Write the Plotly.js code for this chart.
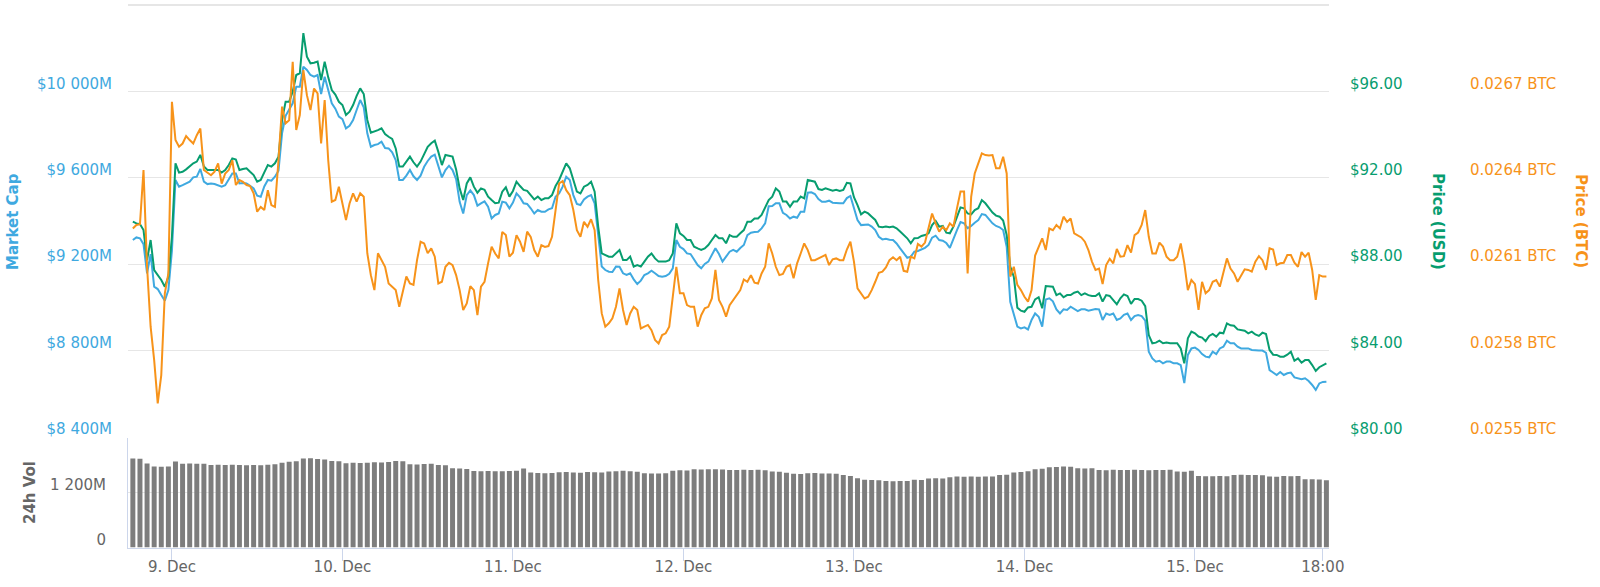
<!DOCTYPE html>
<html>
<head>
<meta charset="utf-8">
<script src="https://cdn.plot.ly/plotly-3.0.1.min.js"></script>
<style>
html,body{margin:0;padding:0;background:#fff;}
#chart{width:1600px;height:587px;}
</style>
</head>
<body>
<div id="chart"></div>
<script>
// Line series: one sample every 30 minutes from 8 Dec 2018 18:30 (UTC)
// Volume bars: one sample every hour from the same start
const startTime = '2018-12-08T18:30:00Z';

// Market cap, millions USD
const marketCap = [
9312,9324,9320,9293,9158,9247,9096,9085,9057,9031,9080,9263,
9590,9559,9566,9574,9582,9602,9605,9641,9582,9571,9574,9571,
9566,9559,9566,9594,9620,9620,9574,9576,9574,9563,9551,9517,
9512,9560,9590,9587,9605,9633,9806,9887,9914,9945,10022,10022,
10114,10099,10076,10068,10076,9988,10068,10000,9945,9920,9883,9872,
9829,9841,9867,9914,9960,9926,9806,9744,9752,9756,9767,9738,
9736,9718,9682,9590,9590,9610,9636,9607,9590,9610,9651,9678,
9698,9707,9659,9602,9636,9656,9636,9594,9489,9435,9520,9542,
9520,9471,9482,9491,9466,9412,9428,9435,9489,9485,9459,9485,
9528,9509,9482,9479,9459,9435,9451,9443,9443,9454,9459,9512,
9528,9559,9605,9590,9520,9479,9474,9500,9513,9520,9482,9327,
9189,9173,9165,9164,9189,9188,9158,9150,9158,9130,9108,9124,
9150,9158,9170,9158,9145,9142,9145,9156,9181,9312,9281,9270,
9250,9247,9220,9196,9181,9201,9212,9242,9274,9247,9212,9235,
9258,9266,9258,9275,9289,9335,9346,9349,9350,9366,9389,9468,
9469,9482,9482,9438,9428,9412,9420,9415,9443,9443,9531,9533,
9525,9502,9489,9489,9494,9485,9482,9482,9482,9506,9516,9460,
9404,9381,9381,9384,9374,9358,9327,9315,9318,9313,9312,9296,
9273,9249,9230,9235,9258,9261,9269,9276,9289,9323,9332,9312,
9309,9298,9276,9320,9358,9395,9389,9367,9377,9392,9404,9432,
9428,9409,9389,9377,9371,9358,9281,9026,8972,8911,8903,8908,
8898,8942,8972,8957,8911,9037,9042,9028,8991,8972,8991,8988,
9003,8991,8983,8991,8991,8985,8988,8993,8991,8942,8972,8965,
8972,8942,8949,8966,8972,8942,8960,8965,8960,8939,8795,8764,
8749,8753,8741,8749,8749,8741,8741,8733,8650,8780,8810,8814,
8803,8784,8772,8769,8795,8784,8810,8818,8846,8834,8834,8818,
8810,8810,8810,8803,8800,8800,8800,8790,8710,8698,8687,8701,
8687,8695,8698,8676,8672,8667,8672,8659,8641,8618,8648,8655,
8656];

// Price, USD
const priceUSD = [
89.97,89.89,89.86,89.58,88.19,89.12,87.73,87.50,87.27,86.96,87.42,89.27,
92.67,92.24,92.28,92.39,92.52,92.67,92.75,93.06,92.52,92.36,92.36,92.36,
92.36,92.24,92.36,92.59,92.90,92.85,92.36,92.41,92.44,92.28,92.13,91.82,
91.90,92.25,92.59,92.52,92.67,92.98,94.68,95.52,95.52,95.99,96.76,96.84,
98.70,97.61,97.30,97.33,97.38,96.53,97.38,96.65,96.06,95.85,95.52,95.37,
94.91,95.06,95.37,95.79,96.14,95.88,94.68,94.09,94.14,94.21,94.29,94.03,
93.90,93.80,93.36,92.52,92.52,92.75,92.98,92.72,92.52,92.75,93.13,93.43,
93.60,93.72,93.20,92.59,93.06,93.01,92.98,92.39,91.51,90.97,91.74,92.02,
91.59,91.31,91.51,91.44,91.13,90.97,90.82,90.85,91.36,91.56,91.13,91.39,
91.82,91.62,91.44,91.40,91.20,91.00,91.13,90.97,91.05,91.05,91.20,91.62,
91.90,92.33,92.67,92.44,91.90,91.36,91.28,91.59,91.67,91.82,91.36,89.74,
88.50,88.43,88.35,88.35,88.50,88.66,88.19,88.19,88.35,87.89,87.96,87.89,
88.12,88.35,88.50,88.27,88.12,88.12,88.12,88.19,88.50,89.89,89.43,89.31,
89.12,89.12,88.81,88.73,88.66,88.73,88.89,89.12,89.35,89.20,89.20,88.97,
89.35,89.27,89.27,89.43,89.58,89.97,89.97,90.12,90.12,90.28,90.59,90.97,
91.13,91.51,91.36,90.90,90.90,90.66,90.90,90.90,91.13,91.05,91.90,91.87,
91.82,91.48,91.44,91.51,91.44,91.40,91.44,91.39,91.44,91.77,91.74,91.10,
90.74,90.31,90.43,90.35,90.20,90.05,89.74,89.71,89.74,89.71,89.74,89.66,
89.51,89.34,89.20,88.97,89.20,89.21,89.31,89.35,89.43,89.81,90.00,89.74,
89.77,89.46,89.43,89.74,90.20,90.63,90.59,90.35,90.31,90.51,90.59,90.97,
90.82,90.59,90.39,90.25,90.20,90.02,89.35,87.89,87.42,85.99,85.85,85.80,
86.00,86.03,86.37,86.47,85.96,86.99,86.96,86.96,86.57,86.65,86.47,86.57,
86.57,86.68,86.73,86.57,86.65,86.57,86.53,86.53,86.65,86.27,86.57,86.53,
86.34,86.14,86.42,86.60,86.53,86.16,86.39,86.39,86.31,86.06,84.72,84.34,
84.37,84.46,84.34,84.37,84.34,84.34,84.34,84.10,83.41,84.57,84.88,84.80,
84.65,84.60,84.44,84.68,84.77,84.65,84.83,84.80,85.26,85.17,85.15,84.98,
84.95,84.92,84.80,84.88,84.75,84.68,84.83,84.77,84.03,83.81,83.80,83.72,
83.72,83.81,83.95,83.53,83.64,83.44,83.56,83.56,83.33,83.06,83.23,83.32,
83.41];

// Price, BTC
const priceBTC = [
0.026224,0.026236,0.026239,0.026427,0.026091,0.025883,0.025767,0.025617,0.025715,0.025999,0.026068,0.026664,
0.026531,0.026508,0.026519,0.026545,0.026531,0.026519,0.026548,0.026571,0.026427,0.026418,0.026409,0.026421,
0.026450,0.026380,0.026415,0.026427,0.026461,0.026375,0.026392,0.026386,0.026375,0.026371,0.026346,0.026282,
0.026299,0.026288,0.026357,0.026305,0.026299,0.026461,0.026647,0.026589,0.026600,0.026803,0.026566,0.026618,
0.026774,0.026687,0.026635,0.026710,0.026693,0.026519,0.026670,0.026461,0.026317,0.026323,0.026369,0.026311,
0.026253,0.026311,0.026346,0.026317,0.026346,0.026334,0.026138,0.026062,0.026010,0.026138,0.026114,0.026091,
0.026033,0.026022,0.026010,0.025952,0.026010,0.026057,0.026033,0.026028,0.026114,0.026178,0.026172,0.026138,
0.026155,0.026126,0.026033,0.026039,0.026091,0.026105,0.026097,0.026062,0.026010,0.025941,0.025964,0.026024,
0.026010,0.025923,0.026022,0.026039,0.026103,0.026161,0.026137,0.026120,0.026212,0.026201,0.026126,0.026140,
0.026201,0.026178,0.026143,0.026213,0.026195,0.026149,0.026126,0.026166,0.026160,0.026163,0.026195,0.026294,
0.026380,0.026389,0.026357,0.026340,0.026288,0.026218,0.026195,0.026247,0.026230,0.026256,0.026218,0.026045,
0.025929,0.025883,0.025895,0.025912,0.025952,0.026016,0.025941,0.025889,0.025929,0.025952,0.025941,0.025877,
0.025883,0.025889,0.025871,0.025837,0.025825,0.025854,0.025860,0.025883,0.025987,0.026091,0.025999,0.025999,
0.025958,0.025952,0.025952,0.025883,0.025923,0.025947,0.025952,0.025981,0.026080,0.025976,0.025952,0.025918,
0.025958,0.025976,0.025990,0.026010,0.026047,0.026039,0.026062,0.026036,0.026033,0.026068,0.026091,0.026172,
0.026137,0.026091,0.026062,0.026066,0.026091,0.026097,0.026051,0.026103,0.026137,0.026172,0.026149,0.026114,
0.026114,0.026120,0.026126,0.026132,0.026097,0.026117,0.026120,0.026114,0.026114,0.026151,0.026178,0.026109,
0.026016,0.025999,0.025981,0.025987,0.026010,0.026039,0.026070,0.026074,0.026089,0.026114,0.026124,0.026114,
0.026126,0.026077,0.026074,0.026126,0.026120,0.026170,0.026161,0.026175,0.026230,0.026276,0.026242,0.026213,
0.026230,0.026218,0.026242,0.026230,0.026294,0.026352,0.026352,0.026068,0.026334,0.026415,0.026450,0.026485,
0.026479,0.026477,0.026479,0.026433,0.026433,0.026473,0.026415,0.026057,0.026091,0.026028,0.026010,0.025987,
0.025970,0.026010,0.026130,0.026161,0.026190,0.026149,0.026224,0.026218,0.026236,0.026224,0.026265,0.026247,
0.026259,0.026207,0.026201,0.026193,0.026178,0.026149,0.026109,0.026080,0.026085,0.026031,0.026097,0.026119,
0.026103,0.026153,0.026126,0.026128,0.026166,0.026140,0.026201,0.026210,0.026236,0.026288,0.026195,0.026137,
0.026137,0.026175,0.026161,0.026126,0.026114,0.026114,0.026126,0.026172,0.026103,0.026010,0.026045,0.026031,
0.025941,0.026039,0.025999,0.026010,0.026039,0.026045,0.026022,0.026068,0.026120,0.026085,0.026068,0.026039,
0.026062,0.026082,0.026080,0.026074,0.026109,0.026128,0.026114,0.026080,0.026155,0.026151,0.026097,0.026103,
0.026105,0.026132,0.026132,0.026105,0.026091,0.026142,0.026126,0.026140,0.026080,0.025976,0.026062,0.026057,
0.026057];

// 24h volume, millions USD (hourly)
const volume24h = [1960,1950,1850,1780,1775,1780,1890,1845,1850,1845,1840,1815,
1820,1815,1820,1815,1810,1815,1810,1820,1830,1865,1885,1900,
1960,1965,1945,1935,1905,1900,1855,1865,1860,1865,1875,1870,
1880,1905,1900,1830,1825,1835,1840,1815,1810,1745,1740,1725,
1685,1680,1685,1680,1680,1685,1690,1740,1650,1640,1635,1640,
1655,1660,1650,1645,1660,1655,1650,1670,1675,1690,1680,1665,
1635,1630,1630,1635,1690,1700,1695,1720,1715,1720,1720,1715,
1705,1705,1710,1705,1710,1700,1670,1665,1645,1620,1615,1635,
1640,1630,1630,1625,1595,1575,1525,1490,1485,1480,1465,1460,
1462,1465,1490,1485,1520,1525,1520,1545,1560,1555,1560,1558,
1560,1562,1595,1600,1650,1660,1675,1720,1730,1765,1770,1780,
1775,1745,1740,1745,1705,1700,1710,1705,1705,1710,1705,1700,
1705,1705,1710,1670,1665,1690,1575,1570,1570,1575,1570,1595,
1600,1595,1595,1590,1560,1555,1575,1570,1575,1500,1500,1495,
1480];

// Axis ticks
const xTickVals = ['2018-12-09','2018-12-10','2018-12-11','2018-12-12','2018-12-13','2018-12-14','2018-12-15','2018-12-15 18:00'];
const xTickText = ['9. Dec','10. Dec','11. Dec','12. Dec','13. Dec','14. Dec','15. Dec','18:00'];
const capTickVals = [8400,8800,9200,9600,10000,10400];
const capTickText = ['$8 400M','$8 800M','$9 200M','$9 600M','$10 000M',''];
const usdTickVals = [80,84,88,92,96,100];
const usdTickText = ['$80.00','$84.00','$88.00','$92.00','$96.00',''];
const btcTickVals = [0.0255,0.0258,0.0261,0.0264,0.0267,0.0270];
const btcTickText = ['0.0255 BTC','0.0258 BTC','0.0261 BTC','0.0264 BTC','0.0267 BTC',''];
const volTickVals = [0,1200];
const volTickText = ['0','1 200M'];

const t0 = Date.parse(startTime);
const fmt = ms => new Date(ms).toISOString().slice(0,19).replace('T',' ');
const lineTimes = marketCap.map((_, i) => fmt(t0 + i * 1800000));
const volTimes = volume24h.map((_, i) => fmt(t0 + i * 3600000));

const BLUE = '#3fa9e0', GREEN = '#079d6f', ORANGE = '#f7931a', GRAY = '#666666';
const FONT = '"DejaVu Sans", "Open Sans", sans-serif';

const traces = [
  {type:'scatter', mode:'lines', x:lineTimes, y:marketCap, xaxis:'x', yaxis:'y',
   line:{color:BLUE, width:2}, hoverinfo:'skip'},
  {type:'scatter', mode:'lines', x:lineTimes, y:priceUSD, xaxis:'x', yaxis:'y2',
   line:{color:GREEN, width:2}, hoverinfo:'skip'},
  {type:'scatter', mode:'lines', x:lineTimes, y:priceBTC, xaxis:'x', yaxis:'y3',
   line:{color:ORANGE, width:2}, hoverinfo:'skip'},
  {type:'bar', x:volTimes, y:volume24h, xaxis:'x', yaxis:'y4',
   marker:{color:'#7d7d7d', line:{width:0}}, hoverinfo:'skip'}
];

const W = 1600, H = 587;
const px = v => v / W;
const py = v => 1 - v / H;

// main panel: pixel rows 3..438 (gridlines 10400 at y=5, 8400 at y=437)
const layout = {
  width: W, height: H,
  margin: {l:0, r:0, t:0, b:0, pad:0},
  paper_bgcolor: '#ffffff',
  plot_bgcolor: 'rgba(0,0,0,0)',
  showlegend: false,
  bargap: 0.3,
  font: {family: FONT, size: 15, color: GRAY},
  xaxis: {
    type: 'date', domain: [px(128), px(1329)], anchor: 'y4',
    range: ['2018-12-08 17:49', '2018-12-15 18:52'],
    tickmode: 'array', tickvals: xTickVals, ticktext: xTickText,
    ticks: 'outside', ticklen: 12, tickwidth: 1, tickcolor: '#ccd6eb',
    ticklabelstandoff: -7,
    showline: true, linecolor: '#ccd6eb', linewidth: 1,
    showgrid: false, zeroline: false,
    tickfont: {family: FONT, size: 15, color: GRAY}
  },
  yaxis: {
    domain: [py(438), py(3)], anchor: 'x',
    range: [8395.4, 10409.3],
    tickmode: 'array', tickvals: capTickVals, ticktext: capTickText,
    showgrid: true, gridcolor: '#e6e6e6', gridwidth: 1.3, zeroline: false,
    showline: false, ticks: '',
    ticklabelstandoff: 15, ticklabelshift: -8,
    tickfont: {family: FONT, size: 15, color: BLUE}
  },
  yaxis2: {
    overlaying: 'y', side: 'right', anchor: 'free', position: px(1349),
    range: [79.954, 100.093],
    tickmode: 'array', tickvals: usdTickVals, ticktext: usdTickText,
    showgrid: false, zeroline: false, showline: false, ticks: '',
    ticklabelshift: -8,
    tickfont: {family: FONT, size: 15, color: GREEN}
  },
  yaxis3: {
    overlaying: 'y', side: 'right', anchor: 'free', position: px(1469),
    range: [0.0254965, 0.0270069],
    tickmode: 'array', tickvals: btcTickVals, ticktext: btcTickText,
    showgrid: false, zeroline: false, showline: false, ticks: '',
    ticklabelshift: -8,
    tickfont: {family: FONT, size: 15, color: ORANGE}
  },
  yaxis4: {
    domain: [py(547.5), py(438)], anchor: 'x',
    range: [0, 2409],
    tickmode: 'array', tickvals: volTickVals, ticktext: volTickText,
    showgrid: true, gridcolor: '#e6e6e6', gridwidth: 1, zeroline: false,
    showline: true, linecolor: '#ccd6eb', linewidth: 1,
    ticks: '',
    ticklabelstandoff: 18, ticklabelshift: -8,
    tickfont: {family: FONT, size: 15, color: GRAY}
  },
  annotations: [
    {text:'<b>Market Cap</b>', xref:'paper', yref:'paper', x:px(13), y:py(222),
     textangle:-90, showarrow:false, xanchor:'center', yanchor:'middle',
     font:{family:FONT, size:15, color:BLUE}},
    {text:'<b>Price (USD)</b>', xref:'paper', yref:'paper', x:px(1438), y:py(221),
     textangle:90, showarrow:false, xanchor:'center', yanchor:'middle',
     font:{family:FONT, size:15, color:GREEN}},
    {text:'<b>Price (BTC)</b>', xref:'paper', yref:'paper', x:px(1581), y:py(221),
     textangle:90, showarrow:false, xanchor:'center', yanchor:'middle',
     font:{family:FONT, size:15, color:ORANGE}},
    {text:'<b>24h Vol</b>', xref:'paper', yref:'paper', x:px(30), y:py(493),
     textangle:-90, showarrow:false, xanchor:'center', yanchor:'middle',
     font:{family:FONT, size:15, color:GRAY}}
  ]
};

Plotly.newPlot('chart', traces, layout, {staticPlot: true, displayModeBar: false});
</script>
</body>
</html>
